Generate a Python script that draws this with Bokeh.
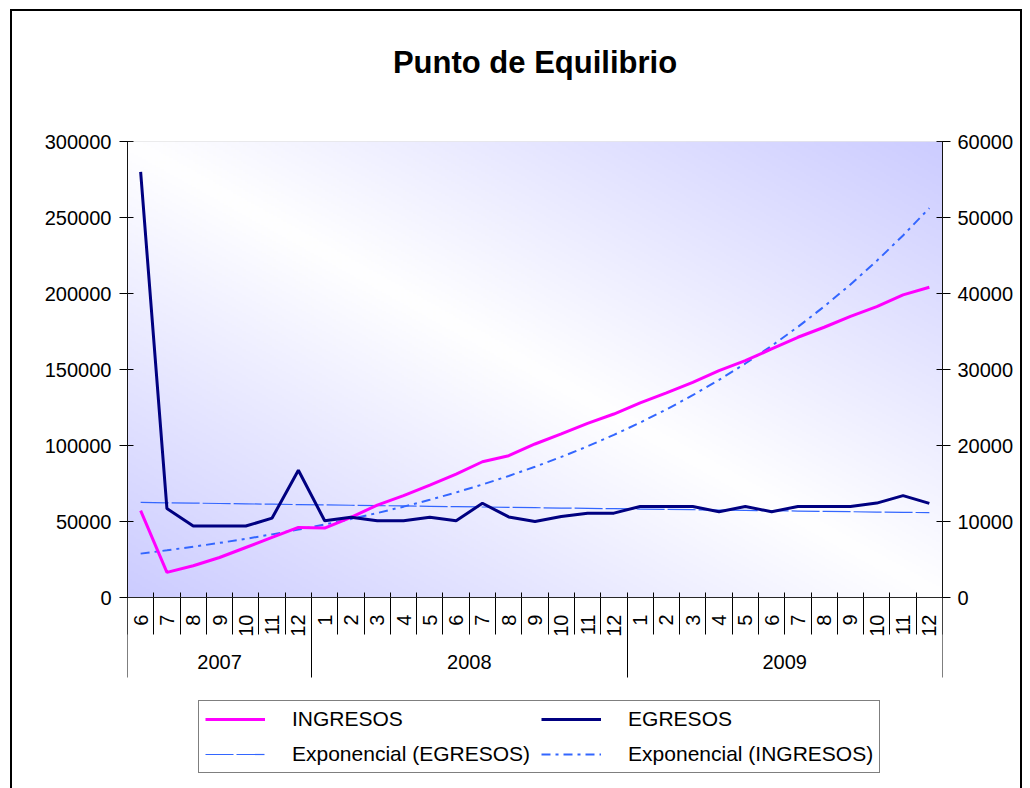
import math
import numpy as np
from bokeh.plotting import figure
from bokeh.models import (Range1d, LinearAxis, FixedTicker, Legend, LegendItem,
                          NumeralTickFormatter, BoxAnnotation)
from bokeh.embed import file_html
from bokeh.resources import INLINE

# ---------------- data ----------------
title_text = "Punto de Equilibrio"
year_of_month = ["2007"] * 7 + ["2008"] * 12 + ["2009"] * 12
months = [6, 7, 8, 9, 10, 11, 12,
          1, 2, 3, 4, 5, 6, 7, 8, 9, 10, 11, 12,
          1, 2, 3, 4, 5, 6, 7, 8, 9, 10, 11, 12]
# INGRESOS (left axis)
ingresos = [57100, 16500, 20900, 26300, 32900, 39500, 46100,
            45700, 52700, 60800, 67000, 74000, 81200, 89300, 93300, 101000, 107600, 114600, 120700,
            128000, 134600, 141600, 149300, 155800, 163500, 171200, 177800, 185000, 191400, 199100, 204100]
# EGRESOS (secondary / right axis)
egresos = [56000, 11700, 9400, 9400, 9400, 10450, 16750,
           10100, 10550, 10100, 10100, 10550, 10100, 12400, 10600, 10000, 10650, 11100, 11100,
           11980, 11980, 11980, 11280, 11980, 11280, 11980, 11980, 11980, 12420, 13400, 12380]
left_ticks = [0, 50000, 100000, 150000, 200000, 250000, 300000]
right_ticks = [0, 10000, 20000, 30000, 40000, 50000, 60000]
series_names = ["INGRESOS", "EGRESOS", "Exponencial (EGRESOS)", "Exponencial (INGRESOS)"]

FONT = "Liberation Sans"
n = len(months)
xc = [i + 0.5 for i in range(n)]


def exp_trend(vals):
    t = np.arange(1, len(vals) + 1)
    b, a = np.polyfit(t, np.log(np.asarray(vals, dtype=float)), 1)
    return np.exp(a + b * t)


# year groups
groups = []
for i, y in enumerate(year_of_month):
    if not groups or groups[-1][0] != y:
        groups.append([y, i, i + 1])
    else:
        groups[-1][2] = i + 1
year_centers = [(g[1] + g[2]) / 2 for g in groups]
year_bounds = [0] + [g[2] for g in groups]

# layout (pixels): plot area 456 px tall, 191 px of category labels / legend below it
AREA_H, BELOW_H = 456, 191
ymax_l, ymax_r = left_ticks[-1], right_ticks[-1]
ymin_l = -ymax_l * BELOW_H / AREA_H
ymin_r = -ymax_r * BELOW_H / AREA_H

p = figure(width=1012, height=779,
           x_range=Range1d(0, n), y_range=Range1d(ymin_l, ymax_l),
           x_axis_type=None, output_backend="svg", toolbar_location=None,
           min_border_left=117, min_border_right=80, min_border_top=132, min_border_bottom=0)
p.margin = (9, 0, 0, 10)
p.styles = {"box-shadow": "inset 2px 2px 0 0 black, inset -2px 0 0 0 black"}
p.extra_y_ranges = {"egr": Range1d(ymin_r, ymax_r)}
p.grid.grid_line_color = None
p.outline_line_color = None
p.background_fill_color = None
p.border_fill_color = None

# title (as label of a bare axis above the plot area)
ax_t = LinearAxis(ticker=FixedTicker(ticks=[]), axis_label=title_text)
ax_t.axis_line_color = None
ax_t.major_tick_out = 0
ax_t.major_tick_in = 0
ax_t.minor_tick_out = 0
ax_t.minor_tick_in = 0
ax_t.major_label_standoff = 0
ax_t.axis_label_standoff = 62
ax_t.axis_label_text_font = FONT
ax_t.axis_label_text_font_size = "31px"
ax_t.axis_label_text_font_style = "bold"
ax_t.axis_label_text_color = "black"
p.add_layout(ax_t, "above")

# gradient plot-area background
H, W = 228, 408
rows = np.arange(H)[:, None] / (H - 1)
cols = np.arange(W)[None, :] / (W - 1)
tt = np.abs(cols - (1 - rows))
lav = (204, 204, 255)
img = np.empty((H, W), dtype=np.uint32)
view = img.view(dtype=np.uint8).reshape((H, W, 4))
for k in range(3):
    view[..., k] = np.clip(255 * (1 - tt) + lav[k] * tt, 0, 255).astype(np.uint8)
view[..., 3] = 255
p.image_rgba(image=[img], x=0, y=0, dw=n, dh=ymax_l, level="image")
p.add_layout(BoxAnnotation(left=0, right=n, bottom=0, top=ymax_l,
                           fill_color=None, line_color="#808080", line_width=1))

# lines
r_egr_t = p.line(xc, exp_trend(egresos), y_range_name="egr", line_color="#3366FF",
                 line_width=1.2, line_dash="28 3")
r_ing_t = p.line(xc, exp_trend(ingresos), line_color="#3366FF", line_width=2, line_dash="9 5 3 5")
r_ing = p.line(xc, ingresos, line_color="#FF00FF", line_width=3)
r_egr = p.line(xc, egresos, y_range_name="egr", line_color="#000080", line_width=3)

# left axis
yl = p.yaxis[0]
yl.ticker = FixedTicker(ticks=left_ticks)
yl.bounds = (0, ymax_l)
yl.formatter = NumeralTickFormatter(format="0")
yl.major_label_text_font = FONT
yl.major_label_text_font_size = "20px"
yl.major_label_text_color = "black"
yl.major_tick_in = 6
yl.major_tick_out = 8
yl.minor_tick_line_color = None
yl.major_label_standoff = 8
yl.axis_line_color = "black"
yl.major_tick_line_color = "black"

# right axis
yr = LinearAxis(y_range_name="egr", ticker=FixedTicker(ticks=right_ticks),
                formatter=NumeralTickFormatter(format="0"), bounds=(0, ymax_r))
yr.major_label_text_font = FONT
yr.major_label_text_font_size = "20px"
yr.major_label_text_color = "black"
yr.major_tick_in = 6
yr.major_tick_out = 8
yr.minor_tick_line_color = None
yr.major_label_standoff = 7
yr.axis_line_color = "black"
p.add_layout(yr, "right")


def bare_axis(ticker, **kw):
    ax = LinearAxis(ticker=ticker, fixed_location=0, **kw)
    ax.axis_line_color = None
    ax.major_tick_line_color = None
    ax.minor_tick_line_color = None
    ax.major_tick_in = 0
    ax.major_tick_out = 0
    ax.minor_tick_in = 0
    ax.minor_tick_out = 0
    ax.major_label_text_font = FONT
    ax.major_label_text_font_size = "20px"
    ax.major_label_text_color = "black"
    return ax


# category axis line + month separators
ax_ms = bare_axis(FixedTicker(ticks=[], minor_ticks=list(range(n + 1))))
ax_ms.axis_line_color = "black"
ax_ms.minor_tick_line_color = "black"
ax_ms.minor_tick_in = 5
ax_ms.minor_tick_out = 37
p.add_layout(ax_ms, "below")

# month labels
ax_m = bare_axis(FixedTicker(ticks=xc),
                 major_label_overrides={xc[i]: str(months[i]) for i in range(n)})
ax_m.major_label_orientation = math.pi / 2
ax_m.major_label_standoff = 17
p.add_layout(ax_m, "below")

# year separators
ax_ys = bare_axis(FixedTicker(ticks=[], minor_ticks=year_bounds))
ax_ys.minor_tick_line_color = "black"
ax_ys.minor_tick_out = 80
p.add_layout(ax_ys, "below")

# year labels
ax_y = bare_axis(FixedTicker(ticks=year_centers),
                 major_label_overrides={year_centers[i]: groups[i][0] for i in range(len(groups))})
ax_y.major_label_standoff = 57
p.add_layout(ax_y, "below")

# legend
legend = Legend(items=[LegendItem(label=series_names[0], renderers=[r_ing]),
                       LegendItem(label=series_names[1], renderers=[r_egr]),
                       LegendItem(label=series_names[2], renderers=[r_egr_t]),
                       LegendItem(label=series_names[3], renderers=[r_ing_t])],
                location=(71, 15), orientation="horizontal", ncols=2)
legend.label_text_font = FONT
legend.label_text_font_size = "21px"
legend.label_text_color = "black"
legend.glyph_width = 60
legend.glyph_height = 22
legend.label_height = 22
legend.label_standoff = 27
legend.spacing = 11
legend.padding = 6
legend.margin = 0
legend.border_line_color = "black"
legend.border_line_width = 1
legend.background_fill_color = "white"
legend.background_fill_alpha = 1
p.add_layout(legend)

open("out.html", "w").write(file_html(p, INLINE))
